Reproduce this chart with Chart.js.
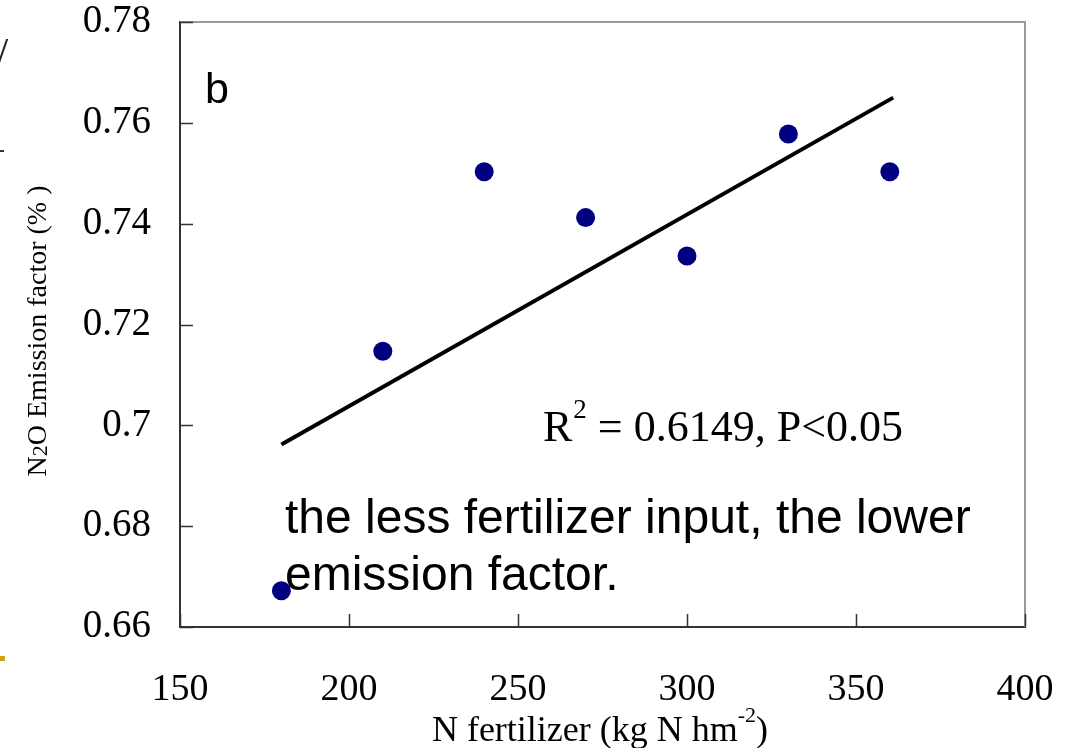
<!DOCTYPE html>
<html>
<head>
<meta charset="utf-8">
<script src="https://cdn.jsdelivr.net/npm/chart.js@4.4.1/dist/chart.umd.min.js"></script>
<style>
  html, body { margin: 0; padding: 0; background: #fff; }
  #wrap { position: relative; width: 1067px; height: 748px; }
  canvas { display: block; }
  .mark { position: absolute; }
</style>
</head>
<body>
<div id="wrap">
  <canvas id="chart" width="1067" height="748"></canvas>
  <!-- slide edge leftovers -->
  <div class="mark" style="left:-4px; top:28px; font: 44px 'Liberation Serif'; color:#222;">/</div>
  <div class="mark" style="left:0; top:150px; width:4px; height:2px; background:#333;"></div>
  <div class="mark" style="left:0; top:656px; width:5px; height:5px; background:#d4a017;"></div>
</div>
<script>
// Data
const fertilizer = [180, 210, 240, 270, 300, 330, 360];
const emissionFactor = [0.6672, 0.7147, 0.7503, 0.7412, 0.7336, 0.7578, 0.7503];
const trendX = [180, 361];
const trendY = [0.6962, 0.7650];
const xTicks = [150, 200, 250, 300, 350, 400];
const yTicks = [0.66, 0.68, 0.70, 0.72, 0.74, 0.76, 0.78];

const serif = "'Liberation Serif', 'Times New Roman', serif";
const sans = "'Liberation Sans', Arial, sans-serif";

// inward ticks, top/right frame, titles, annotations
const decorPlugin = {
    id: 'decor',
    afterDraw(chart) {
        const ctx = chart.ctx;
        const a = chart.chartArea;
        const xs = chart.scales.x, ys = chart.scales.y;
        ctx.save();

        // gray top + right frame
        ctx.strokeStyle = '#999';
        ctx.lineWidth = 2;
        ctx.beginPath();
        ctx.moveTo(a.left, a.top);
        ctx.lineTo(a.right, a.top);
        ctx.lineTo(a.right, a.bottom);
        ctx.stroke();

        // inward ticks
        ctx.strokeStyle = '#333';
        ctx.lineWidth = 1.5;
        ctx.beginPath();
        yTicks.forEach(v => {
            const py = Math.round(ys.getPixelForValue(v)) + 0.5;
            ctx.moveTo(a.left, py);
            ctx.lineTo(a.left + 13, py);
        });
        xTicks.forEach(v => {
            const px = Math.round(xs.getPixelForValue(v)) + 0.5;
            ctx.moveTo(px, a.bottom);
            ctx.lineTo(px, a.bottom - 13);
        });
        ctx.stroke();

        ctx.fillStyle = '#000';
        ctx.textBaseline = 'alphabetic';

        // x title with superscript
        const p1 = 'N fertilizer (kg N hm', p2 = '-2', p3 = ')';
        ctx.font = '36px ' + serif;
        const w1 = ctx.measureText(p1).width;
        ctx.font = '22px ' + serif;
        const w2 = ctx.measureText(p2).width;
        ctx.font = '36px ' + serif;
        const w3 = ctx.measureText(p3).width;
        let sx = 600 - (w1 + w2 + w3) / 2;
        ctx.fillText(p1, sx, 741);
        ctx.font = '22px ' + serif;
        ctx.fillText(p2, sx + w1, 722);
        ctx.font = '36px ' + serif;
        ctx.fillText(p3, sx + w1 + w2, 741);

        // y title rotated, with subscript
        ctx.save();
        ctx.translate(46, 331);
        ctx.rotate(-Math.PI / 2);
        const q1 = 'N', q2 = '2', q3 = 'O Emission factor (% )';
        ctx.font = '28px ' + serif;
        const v1 = ctx.measureText(q1).width;
        ctx.font = '22px ' + serif;
        const v2 = ctx.measureText(q2).width;
        ctx.font = '28px ' + serif;
        const v3 = ctx.measureText(q3).width;
        let sy = -(v1 + v2 + v3) / 2;
        ctx.fillText(q1, sy, 0);
        ctx.font = '22px ' + serif;
        ctx.fillText(q2, sy + v1, 1);
        ctx.font = '28px ' + serif;
        ctx.fillText(q3, sy + v1 + v2, 0);
        ctx.restore();

        // panel letter
        ctx.font = '43px ' + sans;
        ctx.fillText('b', 205, 103);

        // R squared
        ctx.font = '44px ' + serif;
        ctx.fillText('R', 543, 441);
        const rw = ctx.measureText('R').width;
        ctx.font = '27px ' + serif;
        ctx.fillText('2', 543 + rw + 1, 418);
        const tw = ctx.measureText('2').width;
        ctx.font = '44px ' + serif;
        ctx.fillText(' = 0.6149, P<0.05', 543 + rw + tw + 1, 441);

        // note
        ctx.font = '48px ' + sans;
        ctx.fillText('the less fertilizer input, the lower', 285, 533);
        ctx.fillText('emission factor.', 285, 590);

        ctx.restore();
    }
};

new Chart(document.getElementById('chart'), {
    type: 'scatter',
    data: {
        datasets: [
            {
                label: 'trend',
                data: trendX.map((x, i) => ({ x: x, y: trendY[i] })),
                showLine: true,
                borderColor: '#000',
                borderWidth: 4,
                pointRadius: 0,
                fill: false,
                order: 2
            },
            {
                label: 'EF',
                data: fertilizer.map((x, i) => ({ x: x, y: emissionFactor[i] })),
                backgroundColor: '#000080',
                borderColor: '#000080',
                pointRadius: 9.5,
                pointBorderWidth: 0,
                order: 1
            }
        ]
    },
    options: {
        responsive: false,
        animation: false,
        layout: { padding: { top: 22, right: 42, left: 0, bottom: 0 } },
        plugins: {
            legend: { display: false },
            tooltip: { enabled: false }
        },
        scales: {
            x: {
                type: 'linear',
                min: 150, max: 400,
                afterBuildTicks: s => { s.ticks = xTicks.map(v => ({ value: v })); },
                afterFit: s => { s.height = 121; s.paddingLeft = 0; s.paddingRight = 0; },
                grid: { display: false, drawTicks: false },
                border: { display: true, color: '#333', width: 2 },
                ticks: {
                    color: '#000',
                    font: { family: serif, size: 38 },
                    padding: 40,
                    maxRotation: 0
                }
            },
            y: {
                type: 'linear',
                min: 0.66, max: 0.78,
                afterBuildTicks: s => { s.ticks = yTicks.map(v => ({ value: v })); },
                afterFit: s => { s.width = 180; s.paddingTop = 0; s.paddingBottom = 0; },
                grid: { display: false, drawTicks: false },
                border: { display: true, color: '#333', width: 2 },
                ticks: {
                    color: '#000',
                    font: { family: serif, size: 39 },
                    padding: 29,
                    callback: v => String(Math.round(v * 100) / 100)
                }
            }
        }
    },
    plugins: [decorPlugin]
});
</script>
</body>
</html>
